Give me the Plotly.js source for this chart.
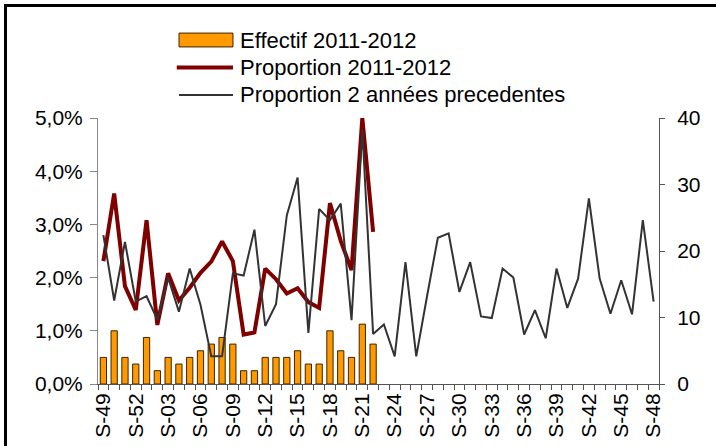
<!DOCTYPE html>
<html><head><meta charset="utf-8">
<script src="https://cdn.plot.ly/plotly-3.0.1.min.js"></script>
<style>
html,body{margin:0;padding:0;background:#fff;}
#wrap{position:relative;width:716px;height:446px;overflow:hidden;}
#chart{width:716px;height:446px;}
#frame{position:absolute;left:4px;top:4px;width:800px;height:600px;border-top:3px solid #000;border-left:3px solid #000;pointer-events:none;}
</style></head>
<body>
<div id="wrap"><div id="chart"></div><div id="frame"></div></div>
<script>
const weeks = ["S-49","S-50","S-51","S-52","S-01","S-02","S-03","S-04","S-05","S-06","S-07","S-08","S-09","S-10","S-11","S-12","S-13","S-14","S-15","S-16","S-17","S-18","S-19","S-20","S-21","S-22","S-23","S-24","S-25","S-26","S-27","S-28","S-29","S-30","S-31","S-32","S-33","S-34","S-35","S-36","S-37","S-38","S-39","S-40","S-41","S-42","S-43","S-44","S-45","S-46","S-47","S-48"];
const labelledWeeks = ["S-49","S-52","S-03","S-06","S-09","S-12","S-15","S-18","S-21","S-24","S-27","S-30","S-33","S-36","S-39","S-42","S-45","S-48"];
const effectif = [4,8,4,3,7,2,4,3,4,5,6,7,6,2,2,4,4,4,5,3,3,8,5,4,9,6];
const propCurPct = [2.31,3.58,1.84,1.39,3.08,1.11,2.08,1.57,1.81,2.09,2.30,2.68,2.31,0.93,0.97,2.17,1.97,1.70,1.80,1.54,1.43,3.40,2.69,2.14,5.00,2.86];
const propPrevPct = [2.80,1.57,2.67,1.55,1.65,1.21,2.00,1.36,2.17,1.49,0.52,0.52,2.08,2.04,2.90,1.09,1.50,3.17,3.88,0.96,3.29,3.08,3.39,1.20,4.78,0.94,1.12,0.52,2.29,0.52,1.65,2.75,2.83,1.73,2.29,1.27,1.24,2.17,2.00,0.93,1.39,0.86,2.17,1.43,1.98,3.49,1.98,1.32,1.95,1.31,3.08,1.55];
const seriesNames = ["Effectif 2011-2012","Proportion 2011-2012","Proportion 2 années precedentes"];
const barColor = "#FF9900", curColor = "#800000", prevColor = "#333333";

const font = "Liberation Sans, Arial, sans-serif";
const traces = [
  {type:"bar", name:seriesNames[0], x:weeks.slice(0,effectif.length), y:effectif, yaxis:"y",
   marker:{color:barColor, line:{color:"#3b2500", width:1}}},
  {type:"scatter", mode:"lines", name:seriesNames[1], x:weeks.slice(0,propCurPct.length), y:propCurPct.map(v=>v/100), yaxis:"y2",
   line:{color:curColor, width:4}},
  {type:"scatter", mode:"lines", name:seriesNames[2], x:weeks, y:propPrevPct.map(v=>v/100), yaxis:"y2",
   line:{color:prevColor, width:2}}
];

// custom legend (swatches + labels) placed above the plot area
const legX0 = 0.1444, legX1 = 0.2406, legTextX = 0.2496;
const legRowsY = [1.2932, 1.1898, 1.0865];
const shapes = [
  {type:"rect", xref:"paper", yref:"paper", x0:legX0, x1:legX1, y0:legRowsY[0]-0.026, y1:legRowsY[0]+0.026,
   fillcolor:barColor, line:{color:"#3b2500", width:1}},
  {type:"line", xref:"paper", yref:"paper", x0:legX0-0.004, x1:legX1, y0:legRowsY[1], y1:legRowsY[1], line:{color:curColor, width:4}},
  {type:"line", xref:"paper", yref:"paper", x0:legX0, x1:legX1, y0:legRowsY[2], y1:legRowsY[2], line:{color:prevColor, width:2}}
];
const annotations = seriesNames.map((n,i)=>({xref:"paper", yref:"paper", x:legTextX, y:legRowsY[i], xanchor:"left", yanchor:"middle",
  text:n, showarrow:false, font:{family:font, size:22, color:"#000"}}));

const layout = {
  width:716, height:446,
  margin:{l:98, r:57, t:118, b:62, pad:0},
  paper_bgcolor:"#fff", plot_bgcolor:"#fff",
  separators:", ",
  font:{family:font, size:21, color:"#000"},
  bargap:0.42,
  showlegend:false,
  shapes:shapes, annotations:annotations,
  xaxis:{type:"category", categoryorder:"array", categoryarray:weeks, range:[-0.5, weeks.length-0.5],
    tickmode:"array", tickvals:weeks, ticktext:weeks.map(w=>labelledWeeks.includes(w)?w:""),
    tickson:"boundaries", ticks:"outside", ticklen:5, tickcolor:"#555", tickwidth:1,
    tickangle:-90, showline:true, linecolor:"#555", linewidth:1, showgrid:false, zeroline:false,
    tickfont:{family:font,size:21,color:"#000"}},
  yaxis:{side:"right", range:[0,40], dtick:10, tick0:0, ticks:"outside", ticklen:5, tickcolor:"#555",
    ticklabelstandoff:8,
    showline:true, linecolor:"#555", linewidth:1, showgrid:false, zeroline:false,
    tickfont:{family:font,size:21,color:"#000"}},
  yaxis2:{overlaying:"y", side:"left", range:[0,0.05], dtick:0.01, tick0:0, tickformat:".1%", ticks:"outside", ticklen:7, tickcolor:"#888",
    ticklabelstandoff:3,
    showline:true, linecolor:"#888", linewidth:1, showgrid:false, zeroline:false,
    tickfont:{family:font,size:21,color:"#000"}}
};
Plotly.newPlot("chart", traces, layout, {displayModeBar:false, staticPlot:true});
</script>
</body></html>
